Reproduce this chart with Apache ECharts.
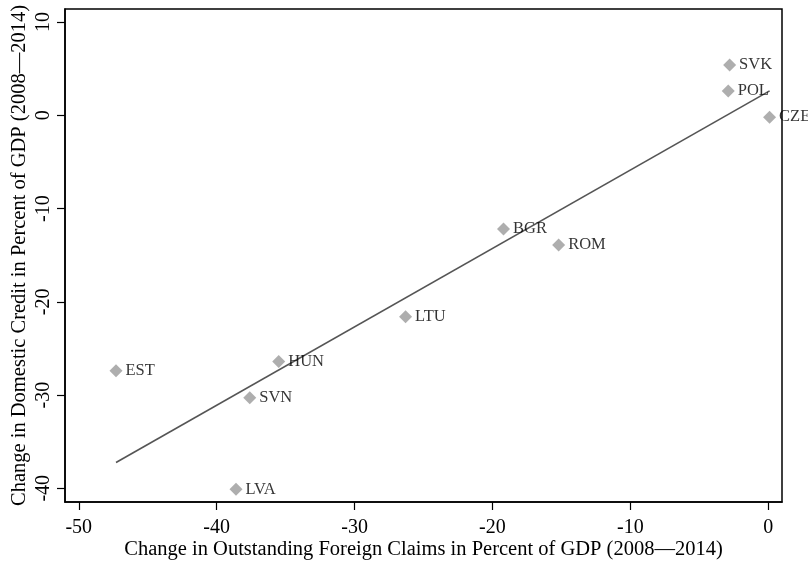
<!DOCTYPE html>
<html>
<head>
<meta charset="utf-8">
<script src="https://cdn.jsdelivr.net/npm/echarts@6/dist/echarts.min.js"></script>
<style>
  html, body { margin: 0; padding: 0; background: #fff; }
  #chart { width: 808px; height: 561px; }
</style>
</head>
<body>
<div id="chart"></div>
<script>
// Country codes and changes (2008–2014), in percent of GDP
const countries = ['SVK', 'POL', 'CZE', 'BGR', 'ROM', 'LTU', 'HUN', 'SVN', 'EST', 'LVA'];
const foreignClaimsChange = [-2.8, -2.9, 0.1, -19.2, -15.2, -26.3, -35.5, -37.6, -47.3, -38.6];
const domesticCreditChange = [5.4, 2.6, -0.2, -12.2, -13.9, -21.6, -26.4, -30.3, -27.4, -40.1];

const xTicks = [-50, -40, -30, -20, -10, 0];
const yTicks = [-40, -30, -20, -10, 0, 10];

const xTitle = 'Change in Outstanding Foreign Claims in Percent of GDP (2008\u20142014)';
const yTitle = 'Change in Domestic Credit in Percent of GDP (2008\u20142014)';

// Least-squares fit line across the observed range of foreign-claims changes
function linearFit(xs, ys) {
  const n = xs.length;
  const mx = xs.reduce((a, b) => a + b, 0) / n;
  const my = ys.reduce((a, b) => a + b, 0) / n;
  let sxy = 0, sxx = 0;
  for (let i = 0; i < n; i++) {
    sxy += (xs[i] - mx) * (ys[i] - my);
    sxx += (xs[i] - mx) * (xs[i] - mx);
  }
  const slope = sxy / sxx;
  return { slope, intercept: my - slope * mx };
}
const fit = linearFit(foreignClaimsChange, domesticCreditChange);
const xLo = Math.min(...foreignClaimsChange);
const xHi = Math.max(...foreignClaimsChange);
const fitLine = [
  [xLo, fit.intercept + fit.slope * xLo],
  [xHi, fit.intercept + fit.slope * xHi]
];

const points = countries.map((c, i) => ({ name: c, value: [foreignClaimsChange[i], domesticCreditChange[i]] }));

const FONT = '"Liberation Serif", "Times New Roman", serif';

const chart = echarts.init(document.getElementById('chart'), null, { renderer: 'canvas' });
chart.setOption({
  animation: false,
  backgroundColor: '#ffffff',
  grid: {
    left: 65, right: 26, top: 9, bottom: 59,
    outerBoundsMode: 'none',
    containLabel: false,
    show: true, borderColor: '#000', borderWidth: 1.5, backgroundColor: '#fff'
  },
  xAxis: {
    type: 'value',
    min: -51, max: 1,
    name: xTitle,
    nameLocation: 'middle',
    nameGap: 37,
    nameMoveOverlap: false,
    nameTextStyle: { fontFamily: FONT, fontSize: 20.5, color: '#000' },
    axisLine: { show: true, onZero: false, lineStyle: { color: '#000', width: 1.5 } },
    axisTick: { show: true, inside: false, length: 8, customValues: xTicks, lineStyle: { color: '#000', width: 1.2 } },
    axisLabel: { customValues: xTicks, fontFamily: FONT, fontSize: 20, color: '#000', margin: 16, formatter: v => String(v) },
    splitLine: { show: false }
  },
  yAxis: {
    type: 'value',
    min: -41.47, max: 11.4,
    name: yTitle,
    nameLocation: 'middle',
    nameGap: 35,
    nameMoveOverlap: false,
    nameRotate: 90,
    nameTextStyle: { fontFamily: FONT, fontSize: 20.5, color: '#000' },
    axisLine: { show: true, onZero: false, lineStyle: { color: '#000', width: 1.5 } },
    axisTick: { show: true, inside: false, length: 8, customValues: yTicks, lineStyle: { color: '#000', width: 1.2 } },
    axisLabel: { customValues: yTicks, rotate: 90, fontFamily: FONT, fontSize: 20, color: '#000', margin: 11, formatter: v => String(v) },
    splitLine: { show: false }
  },
  series: [
    {
      type: 'line',
      data: fitLine,
      symbol: 'none',
      lineStyle: { color: '#555555', width: 1.6 },
      silent: true,
      z: 2
    },
    {
      type: 'scatter',
      data: points,
      symbol: 'diamond',
      symbolSize: 13,
      itemStyle: { color: '#9a9a9a' },
      label: {
        show: true,
        position: 'right',
        distance: 3,
        formatter: p => p.name,
        fontFamily: FONT,
        fontSize: 16.5,
        color: '#000'
      },
      z: 3
    }
  ]
});
</script>
</body>
</html>
